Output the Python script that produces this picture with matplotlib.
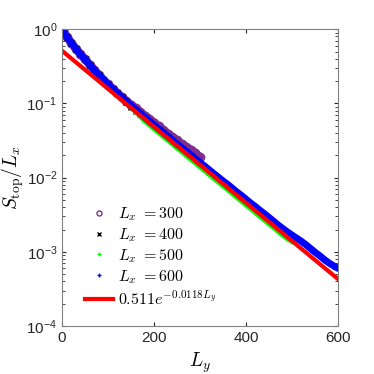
import matplotlib
matplotlib.use("Agg")
import matplotlib.pyplot as plt
import numpy as np

# data (S_top / L_x against L_y)
ly_head = [0, 5]
head = [0.970, 0.877, 0.789, 0.655, 0.543, 0.460, 0.391, 0.332, 0.282, 0.242,
        0.207, 0.180, 0.157, 0.138, 0.121, 0.106]

ly300 = ly_head + list(range(10, 301, 10))
s300 = head[:13] + [0.136, 0.121, 0.107, 0.0954, 0.0857, 0.0762, 0.0685, 0.0616,
                    0.0553, 0.0492, 0.0438, 0.0393, 0.0353, 0.0318, 0.0286, 0.0260,
                    0.0236, 0.0215, 0.0187]

ly400 = ly_head + list(range(10, 401, 10))
s400 = head + [0.0901, 0.0800, 0.0711, 0.0632, 0.0562, 0.0499, 0.0444, 0.0394,
               0.0351, 0.0311, 0.0277, 0.0246, 0.0219, 0.0194, 0.0173, 0.0153,
               0.0136, 0.0121, 0.0108, 0.00957, 0.00851, 0.00756, 0.00672,
               0.00597, 0.00531, 0.00471]

ly500 = ly_head + list(range(10, 501, 10))
s500 = head + [0.0912, 0.0791, 0.0687, 0.0590, 0.0525, 0.0466, 0.0414, 0.0368,
               0.0327, 0.0291, 0.0258, 0.0230, 0.0204, 0.0181, 0.0161, 0.0143,
               0.0127, 0.0113, 0.0100, 0.00893, 0.00794, 0.00706, 0.00627,
               0.00557, 0.00495, 0.00440, 0.00391, 0.00347, 0.00309, 0.00274,
               0.00244, 0.00217, 0.00193, 0.00171, 0.00154, 0.00140]

ly600 = ly_head + list(range(10, 601, 10))
s600 = head + [0.0933, 0.0828, 0.0736, 0.0647, 0.0575, 0.0511, 0.0454, 0.0404,
               0.0359, 0.0319, 0.0283, 0.0252, 0.0226, 0.0201, 0.0179, 0.0159,
               0.0143, 0.0127, 0.0113, 0.0101, 0.00901, 0.00810, 0.00720,
               0.00640, 0.00575, 0.00511, 0.00454, 0.00408, 0.00363, 0.00326,
               0.00290, 0.00258, 0.00229, 0.00206, 0.00185, 0.00168, 0.00153,
               0.00139, 0.00125, 0.00111, 0.000988, 0.000888, 0.000789,
               0.000710, 0.000650, 0.000600]

fit_a = 0.511
fit_b = 0.0118

plt.rcParams['mathtext.fontset'] = 'cm'
plt.rcParams['font.family'] = ['Liberation Sans', 'DejaVu Sans']

fig = plt.figure(figsize=(3.74, 3.74), dpi=100)
ax = fig.add_axes([0.166, 0.128, 0.738, 0.794])

# (x, y, colour, marker, band width, label)
series = [
    (ly300, s300, '#7E2F8E', 'o', 6, r'$L_x\ \mathrm{=300}$'),
    (ly400, s400, 'black', 'x', 4.5, r'$L_x\ \mathrm{=400}$'),
    (ly500, s500, '#00FF00', '+', 4.5, r'$L_x\ \mathrm{=500}$'),
    (ly600, s600, '#0000FF', '+', 5, r'$L_x\ \mathrm{=600}$'),
]
for x, y, c, m, w, lab in series:
    ax.plot(x, y, '-', color=c, lw=w, solid_capstyle='round')
    ax.plot(x, y, m, color=c, ms=w, mfc='none' if m == 'o' else c, ls='none', label=lab)

lfit = np.linspace(0, 600, 200)
ax.plot(lfit, fit_a * np.exp(-fit_b * lfit), color='red', lw=3,
        label=r'$0.511e^{-0.0118L_y}$')

ax.set_yscale('log')
ax.set_xlim(0, 600)
ax.set_ylim(1e-4, 1)
ax.set_xticks([0, 200, 400, 600])
ax.tick_params(which='both', direction='in', top=True, right=True,
               colors='#262626', labelsize=11)
ax.tick_params(which='major', length=3)
ax.tick_params(which='minor', length=2)
for s in ax.spines.values():
    s.set_color('#808080')

ax.set_xlabel(r'$L_y$', fontsize=14)
ax.set_ylabel(r'$S_{\rm top}/L_x$', fontsize=14, labelpad=0)

ax.legend(loc='lower left', bbox_to_anchor=(0.03, 0.015), frameon=False,
          fontsize=11.5, markerscale=0.6, handlelength=1.8, labelspacing=0.2,
          handletextpad=0.3)

fig.savefig('out.png', dpi=100)
